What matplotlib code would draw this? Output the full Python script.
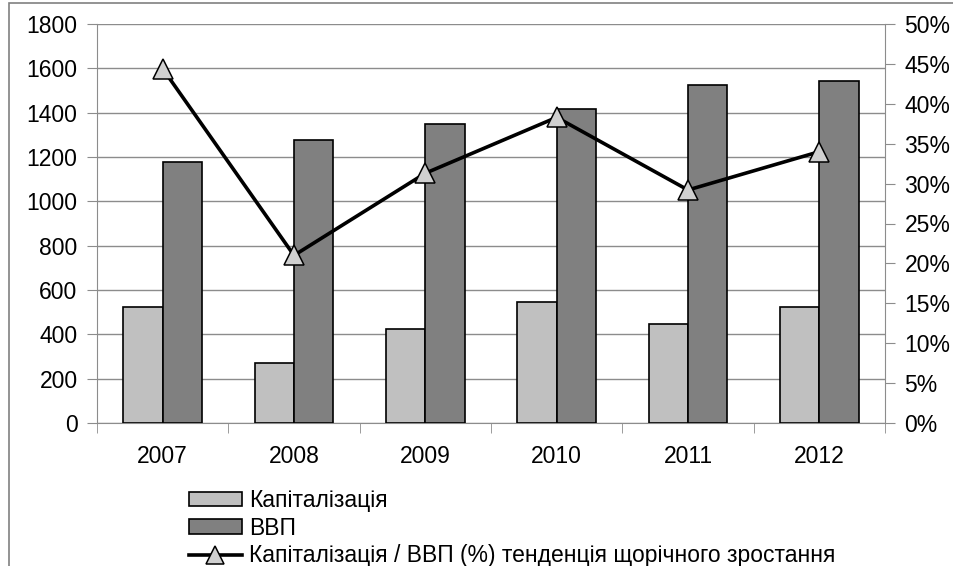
import numpy as np
import matplotlib
matplotlib.use("Agg")
import matplotlib.pyplot as plt
from matplotlib.patches import Patch, Rectangle
from matplotlib.lines import Line2D
from matplotlib.ticker import FuncFormatter, FixedLocator

plt.rcParams['font.family'] = ['Liberation Sans', 'DejaVu Sans']

# data
years = ['2007', '2008', '2009', '2010', '2011', '2012']
kapitalizatsiya = [525, 271, 422, 546, 447, 523]
vvp = [1179, 1277, 1349, 1416, 1524, 1542]
ratio_pct = [44.4, 21.0, 31.3, 38.3, 29.2, 34.0]

light = '#C0C0C0'
dark = '#808080'
grid_c = '#8C8C8C'
fs = 16.5

fig = plt.figure(figsize=(9.54, 5.66), dpi=100)
ax = fig.add_axes([97 / 954, 1 - 423 / 566, (885 - 97) / 954, (423 - 24) / 566])

x = np.arange(len(years))
w = 0.3
ax.bar(x - w / 2, kapitalizatsiya, w, color=light, edgecolor='black', linewidth=1.2, zorder=3)
ax.bar(x + w / 2, vvp, w, color=dark, edgecolor='black', linewidth=1.2, zorder=3)

ax.set_xlim(-0.5, len(years) - 0.5)
ax.set_ylim(0, 1800)
ax.set_yticks(np.arange(0, 1801, 200))
ax.yaxis.grid(True, color=grid_c, linewidth=1)
ax.set_axisbelow(True)

ax.set_xticks(x)
ax.set_xticklabels(years)
ax.xaxis.set_minor_locator(FixedLocator(np.arange(-0.5, len(years), 1)))
ax.tick_params(axis='x', which='major', length=0, pad=16, labelsize=fs)
ax.tick_params(axis='x', which='minor', length=7, color=grid_c, direction='out')
ax.tick_params(axis='y', length=7, color=grid_c, pad=7, labelsize=fs)

for side in ['top', 'right']:
    ax.spines[side].set_visible(False)
for side in ['left', 'bottom']:
    ax.spines[side].set_color(grid_c)

# ratio line on the right axis
ax2 = ax.twinx()
ax2.plot(x, ratio_pct, color='black', linewidth=2.6, marker='^', markersize=14,
         markerfacecolor='#D0D0D0', markeredgecolor='black', markeredgewidth=1.1, zorder=5)
ax2.set_ylim(0, 50)
ax2.set_yticks(np.arange(0, 51, 5))
ax2.yaxis.set_major_formatter(FuncFormatter(lambda v, p: f'{v:.0f}%'))
ax2.tick_params(axis='y', length=7, color=grid_c, pad=7, labelsize=fs)
for side in ['top', 'left', 'bottom']:
    ax2.spines[side].set_visible(False)
ax2.spines['right'].set_color(grid_c)

# legend below the plot
handles = [
    Patch(facecolor=light, edgecolor='black', linewidth=1.2),
    Patch(facecolor=dark, edgecolor='black', linewidth=1.2),
    Line2D([], [], color='black', linewidth=2.6, marker='^', markersize=13,
           markerfacecolor='#D0D0D0', markeredgecolor='black', markeredgewidth=1.1),
]
labels = ['Капіталізація', 'ВВП', 'Капіталізація / ВВП (%) тенденція щорічного зростання']
fig.legend(handles, labels, loc='upper left', bbox_to_anchor=(189 / 954, 1 - 489 / 566),
           frameon=False, fontsize=16.5, handlelength=2.3, handleheight=0.58,
           handletextpad=0.33, labelspacing=0.2, borderpad=0, borderaxespad=0)

# outer frame
fig.patches.append(Rectangle((9 / 954, -0.1), 1.2, 1.1 - 3 / 566,
                             transform=fig.transFigure, fill=False,
                             edgecolor='#808080', linewidth=1.2))

fig.savefig('out.png', dpi=100)
